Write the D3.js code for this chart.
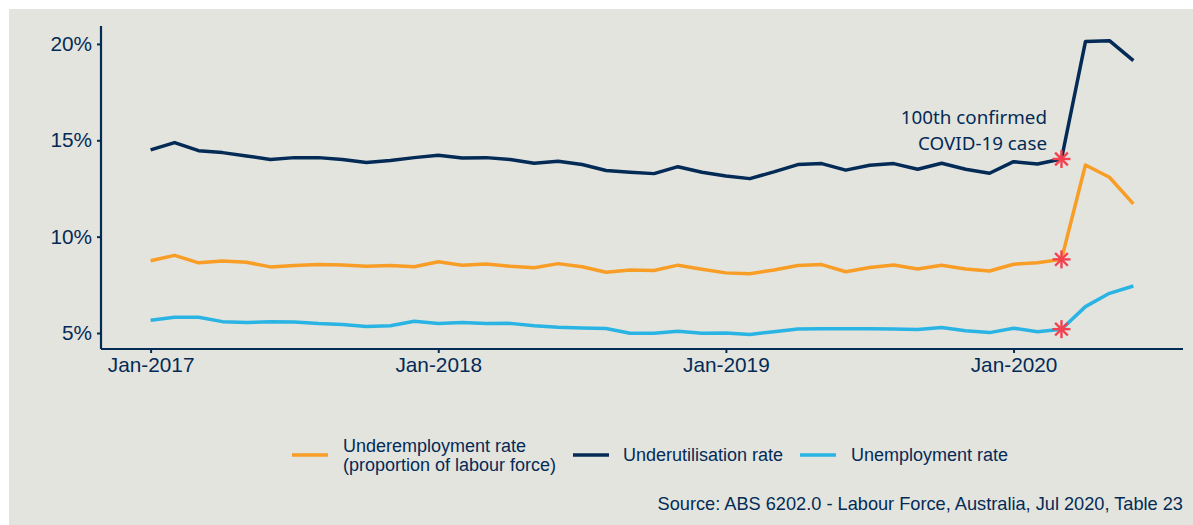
<!DOCTYPE html>
<html>
<head>
<meta charset="utf-8">
<script src="https://cdn.jsdelivr.net/npm/d3@7"></script>
<style>
  html, body { margin: 0; padding: 0; background: #ffffff; }
  svg { display: block; }
</style>
</head>
<body>
<svg id="chart" width="1193" height="525"></svg>
<script>
// ---- data: monthly, Jan-2017 .. Jun-2020 ----
const months = d3.range(42); // 0 = Jan-2017
const underutilisation = [14.5, 14.88, 14.46, 14.36, 14.19, 14.0, 14.1, 14.1, 14.0, 13.85, 13.95, 14.1,
  14.22, 14.08, 14.1, 14.0, 13.81, 13.91, 13.74, 13.43, 13.34, 13.27, 13.63, 13.34,
  13.15, 13.01, 13.36, 13.74, 13.79, 13.45, 13.7, 13.79, 13.5, 13.81, 13.5, 13.29,
  13.89, 13.77, 14.03, 20.12, 20.17, 19.13];
const underemployment = [8.75, 9.03, 8.64, 8.74, 8.67, 8.43, 8.5, 8.55, 8.53, 8.46, 8.5, 8.44,
  8.7, 8.52, 8.58, 8.46, 8.39, 8.6, 8.44, 8.15, 8.27, 8.24, 8.52, 8.31,
  8.12, 8.08, 8.27, 8.5, 8.55, 8.18, 8.4, 8.53, 8.32, 8.52, 8.32, 8.22,
  8.57, 8.65, 8.82, 13.72, 13.08, 11.7];
const unemployment = [5.66, 5.82, 5.82, 5.59, 5.54, 5.59, 5.57, 5.49, 5.44, 5.34, 5.38, 5.61,
  5.49, 5.54, 5.49, 5.5, 5.38, 5.3, 5.26, 5.23, 4.99, 4.99, 5.09, 4.99,
  5.0, 4.92, 5.07, 5.21, 5.22, 5.22, 5.22, 5.21, 5.18, 5.28, 5.12, 5.02,
  5.25, 5.06, 5.2, 6.37, 7.06, 7.44];
const xTickIndex = [0, 12, 24, 36];
const xTickLabels = ["Jan-2017", "Jan-2018", "Jan-2019", "Jan-2020"];
const yTicks = [5, 10, 15, 20];
const covidIndex = 38; // Mar-2020
const seriesNames = ["Underemployment rate\n(proportion of labour force)", "Underutilisation rate", "Unemployment rate"];
const annotationLines = ["100th confirmed", "COVID-19 case"];
const sourceText = "Source: ABS 6202.0 - Labour Force, Australia, Jul 2020, Table 23";

// ---- styles ----
const NAVY = "#032b56";
const ORANGE = "#f89d26";
const BLUE = "#2ab4e3";
const RED = "#f4404f";
const BG = "#e4e4df";
const FONT = "'Liberation Sans', Arial, sans-serif";

const series = [
  { name: seriesNames[0], values: underemployment, color: ORANGE },
  { name: seriesNames[1], values: underutilisation, color: NAVY },
  { name: seriesNames[2], values: unemployment, color: BLUE }
];

const svg = d3.select("#chart");
svg.append("rect").attr("x", 9).attr("y", 9).attr("width", 1184).attr("height", 516).attr("fill", BG);

const x = d3.scaleLinear().domain([-2.07, 43.07]).range([101, 1183]);
const y = d3.scaleLinear().domain([4.17, 20.93]).range([349, 26]);

// axes
const yAxis = d3.axisLeft(y).tickValues(yTicks).tickFormat(d => d + "%").tickSize(4).tickPadding(5);
const gy = svg.append("g").attr("transform", "translate(101,0)").call(yAxis);
const xAxis = d3.axisBottom(x).tickValues(xTickIndex).tickFormat((d, i) => xTickLabels[i]).tickSize(4).tickPadding(4);
const gx = svg.append("g").attr("transform", "translate(0,349)").call(xAxis);
[gx, gy].forEach(g => {
  g.select(".domain").attr("stroke", NAVY).attr("stroke-width", 2.2);
  g.selectAll(".tick line").attr("stroke", NAVY).attr("stroke-width", 2);
  g.selectAll(".tick text").attr("fill", NAVY).style("font-family", FONT).style("font-size", "20.8px");
});
gx.select(".domain").attr("d", "M101,0H1183");
gy.select(".domain").attr("d", "M0,26V349");

// lines
const line = d3.line().x((d, i) => x(months[i])).y(d => y(d));
series.forEach(s => {
  svg.append("path").datum(s.values).attr("d", line)
    .attr("fill", "none").attr("stroke", s.color).attr("stroke-width", 3.5)
    .attr("stroke-linejoin", "round");
});

// stars at 100th case
const starR = 9;
series.forEach(s => {
  const cx = x(covidIndex), cy = y(s.values[covidIndex]);
  const g = svg.append("g").attr("transform", `translate(${cx},${cy})`);
  [0, 45, 90, 135].forEach(a => {
    const r = a * Math.PI / 180;
    g.append("line")
      .attr("x1", -starR * Math.cos(r)).attr("y1", -starR * Math.sin(r))
      .attr("x2", starR * Math.cos(r)).attr("y2", starR * Math.sin(r))
      .attr("stroke", RED).attr("stroke-width", 2.4);
  });
});

// annotation
const ann = svg.append("text").attr("text-anchor", "end")
  .style("font-family", "'Noto Sans', 'Open Sans', sans-serif").style("font-size", "18.8px").attr("fill", NAVY);
annotationLines.forEach((t, i) => {
  ann.append("tspan").attr("x", 1047).attr("y", 124 + i * 25.5).text(t);
});

// legend
const legendItems = [
  { s: series[0], lx: 292, tx: 343 },
  { s: series[1], lx: 573, tx: 623 },
  { s: series[2], lx: 800, tx: 851 }
];
legendItems.forEach(it => {
  svg.append("line").attr("x1", it.lx).attr("x2", it.lx + 36).attr("y1", 455).attr("y2", 455)
    .attr("stroke", it.s.color).attr("stroke-width", 3.4);
  const parts = it.s.name.split("\n");
  const t = svg.append("text").style("font-family", FONT).style("font-size", "18px").attr("fill", NAVY);
  parts.forEach((p, i) => {
    const baseY = parts.length === 1 ? 461 : 452 + i * 19;
    t.append("tspan").attr("x", it.tx).attr("y", baseY).text(p);
  });
});

// source
svg.append("text").attr("x", 1183).attr("y", 510).attr("text-anchor", "end")
  .style("font-family", FONT).style("font-size", "18.2px").attr("fill", NAVY).text(sourceText);
</script>
</body>
</html>
